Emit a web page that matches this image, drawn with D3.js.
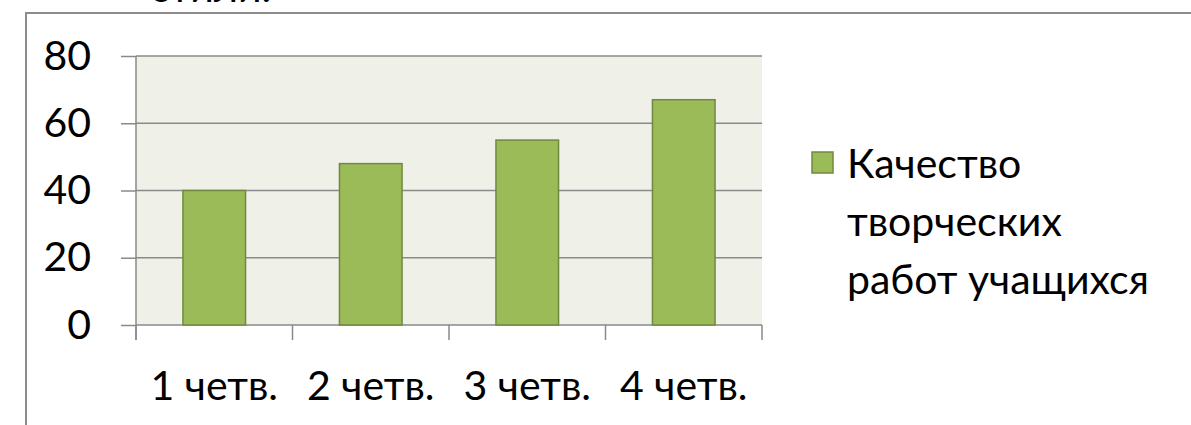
<!DOCTYPE html>
<html>
<head>
<meta charset="utf-8">
<script src="https://cdn.jsdelivr.net/npm/d3@7"></script>
<style>
  body { margin: 0; background: #fff; }
  svg { display: block; font-family: Lato, "Open Sans", sans-serif; }
</style>
</head>
<body>
<div id="chart"></div>
<script>
// data
const categories = ['1 четв.', '2 четв.', '3 четв.', '4 четв.'];
const values = [40, 48, 55, 67];
const yTicks = [0, 20, 40, 60, 80];
const seriesName = ['Качество', 'творческих', 'работ учащихся'];
const cutTitle = 'стили.';

const width = 1191;
const height = 425;
const plot = { left: 136, right: 762, top: 56, bottom: 325 };
const fontSize = 41;

const svg = d3.select('#chart').append('svg')
  .attr('width', width)
  .attr('height', height);

// frame of the slide object, cut at right/bottom
svg.append('path')
  .attr('d', `M26,${height} V13 H${width}`)
  .attr('fill', 'none')
  .attr('stroke', '#8c8c8c')
  .attr('stroke-width', 2);

// title that is mostly cropped away at the top (as in the source picture)
svg.append('text')
  .attr('x', 150)
  .attr('y', 2)
  .attr('font-size', fontSize)
  .text(cutTitle);

const x = d3.scaleBand()
  .domain(categories)
  .range([plot.left, plot.right])
  .paddingInner(0.6)
  .paddingOuter(0.3);

const y = d3.scaleLinear()
  .domain([0, 80])
  .range([plot.bottom, plot.top]);

// plot background
svg.append('rect')
  .attr('x', plot.left)
  .attr('y', plot.top)
  .attr('width', plot.right - plot.left)
  .attr('height', plot.bottom - plot.top)
  .attr('fill', '#eff1e9');

// gridlines
svg.append('g')
  .selectAll('line')
  .data(yTicks)
  .enter().append('line')
  .attr('x1', plot.left)
  .attr('x2', plot.right)
  .attr('y1', d => y(d))
  .attr('y2', d => y(d))
  .attr('stroke', '#8a8a8a')
  .attr('stroke-width', 1.5);

// bars
svg.append('g')
  .selectAll('rect')
  .data(values)
  .enter().append('rect')
  .attr('x', (d, i) => x(categories[i]))
  .attr('y', d => y(d))
  .attr('width', x.bandwidth())
  .attr('height', d => y(0) - y(d))
  .attr('fill', '#9bbb59')
  .attr('stroke', '#71893f')
  .attr('stroke-width', 1.5);

// y axis
const yAxis = svg.append('g')
  .attr('transform', `translate(${plot.left},0)`)
  .call(d3.axisLeft(y).tickValues(yTicks).tickSize(15).tickPadding(30).tickSizeOuter(0));
yAxis.select('.domain').remove();
yAxis.selectAll('line').attr('stroke', '#8a8a8a').attr('stroke-width', 1.5);
yAxis.selectAll('text')
  .attr('font-size', fontSize)
  .attr('font-family', 'Lato, sans-serif')
  .attr('fill', '#000');

svg.append('line')
  .attr('x1', plot.left).attr('x2', plot.left)
  .attr('y1', plot.top).attr('y2', plot.bottom + 15)
  .attr('stroke', '#8a8a8a')
  .attr('stroke-width', 1.5);

// category boundary ticks
const gap = (x.step() - x.bandwidth()) / 2;
const bounds = categories.map(c => x(c) - gap).concat([plot.right]);
svg.append('g')
  .selectAll('line')
  .data(bounds)
  .enter().append('line')
  .attr('x1', d => d).attr('x2', d => d)
  .attr('y1', plot.bottom).attr('y2', plot.bottom + 15)
  .attr('stroke', '#8a8a8a')
  .attr('stroke-width', 1.5);

// x labels
const xAxis = svg.append('g')
  .attr('transform', `translate(0,${plot.bottom})`)
  .call(d3.axisBottom(x).tickSize(0).tickPadding(46));
xAxis.select('.domain').remove();
xAxis.selectAll('text')
  .attr('font-size', fontSize)
  .attr('font-family', 'Lato, sans-serif')
  .attr('fill', '#000');

// legend
const legend = svg.append('g');
legend.append('rect')
  .attr('x', 812).attr('y', 152)
  .attr('width', 21).attr('height', 21)
  .attr('fill', '#9bbb59')
  .attr('stroke', '#71893f')
  .attr('stroke-width', 1.5);
legend.append('text')
  .attr('font-size', fontSize)
  .selectAll('tspan')
  .data(seriesName)
  .enter().append('tspan')
  .attr('x', 847)
  .attr('y', (d, i) => 178 + i * 58)
  .text(d => d);
</script>
</body>
</html>
